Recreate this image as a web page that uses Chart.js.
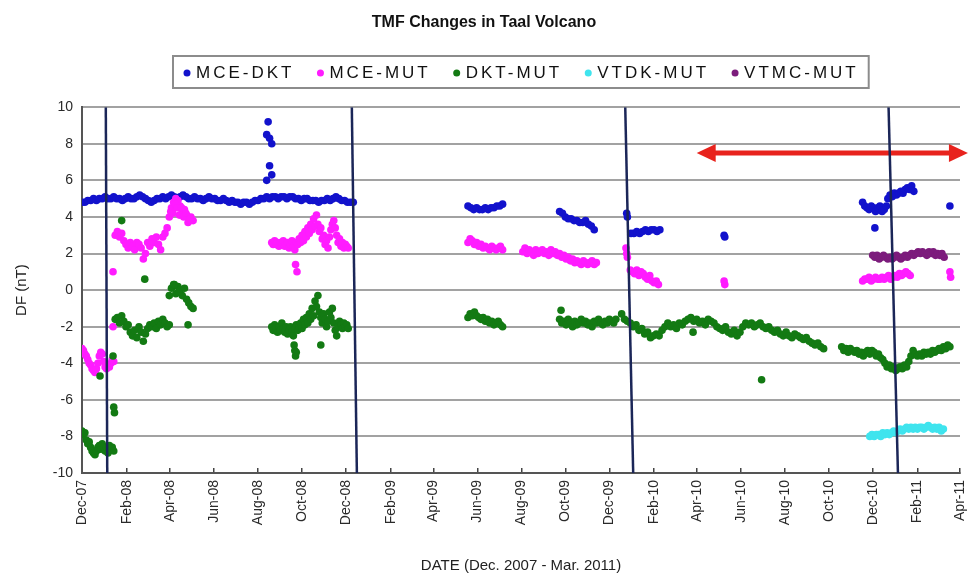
<!DOCTYPE html>
<html>
<head>
<meta charset="utf-8">
<title>TMF Changes in Taal Volcano</title>
<script src="https://cdn.jsdelivr.net/npm/chart.js@4.4.1/dist/chart.umd.min.js"></script>
<style>
  html, body { margin: 0; padding: 0; background: #ffffff; }
  #wrap { width: 968px; height: 578px; }
</style>
</head>
<body>
<div id="wrap"><canvas id="tmf" width="968" height="578"></canvas></div>
<script>
// Time axis: day numbers counted from 1 Dec 2007 (day 0) to 1 Apr 2011 (day 1217).
const xTickDays = [0, 62, 122, 183, 244, 305, 366, 428, 487, 548, 609, 670, 731, 793, 852, 913, 974, 1035, 1096, 1158, 1217];
const xTickLabels = ['Dec-07', 'Feb-08', 'Apr-08', 'Jun-08', 'Aug-08', 'Oct-08', 'Dec-08', 'Feb-09', 'Apr-09', 'Jun-09', 'Aug-09',
                     'Oct-09', 'Dec-09', 'Feb-10', 'Apr-10', 'Jun-10', 'Aug-10', 'Oct-10', 'Dec-10', 'Feb-11', 'Apr-11'];

const seriesNames = ['MCE-DKT', 'MCE-MUT', 'DKT-MUT', 'VTDK-MUT', 'VTMC-MUT'];
const seriesColors = ['#1212cc', '#ff1cff', '#137a13', '#3fe4ee', '#7c1c7c'];

// Readings are stored as runs: [first day, sampling interval (days), DF values in nT]
// plus isolated readings as [day, DF].
const mceDktRuns = [
  [0, 4, [4.8, 4.8, 4.9, 4.9, 5.0, 4.9, 5.0, 5.0, 5.1, 5.0, 5.0, 5.1, 5.0, 5.0, 4.9, 5.0, 5.1, 5.0, 5.0, 5.1,
          5.2, 5.1, 5.0, 4.9, 4.8, 4.9, 5.0, 5.0, 5.1, 5.0, 5.1, 5.2, 5.1, 5.0, 5.1, 5.2, 5.1, 5.0, 5.0, 5.1,
          5.0, 5.0, 4.9, 5.0, 5.1, 5.0, 5.0, 4.9, 4.9, 5.0, 4.9, 4.8, 4.9, 4.8, 4.8, 4.7, 4.8, 4.8, 4.7, 4.8,
          4.9, 4.9, 5.0, 5.0, 5.1, 5.0, 5.1, 5.1, 5.0, 5.1, 5.1, 5.0, 5.1, 5.1, 5.0, 5.0, 4.9, 5.0, 5.0, 4.9,
          4.9, 4.9, 4.8, 4.9, 4.9, 5.0, 4.9, 5.0, 5.1, 5.0, 4.9, 4.9, 4.8, 4.8, 4.8]],
  [535, 4, [4.6, 4.5, 4.4, 4.5, 4.4, 4.4, 4.5, 4.4, 4.5, 4.5, 4.6, 4.6, 4.7]],
  [662, 4, [4.3, 4.2, 4.0, 3.9, 3.9, 3.8, 3.8, 3.7, 3.7, 3.8, 3.6, 3.5, 3.3]],
  [761, 4, [3.1, 3.1, 3.2, 3.1, 3.2, 3.3, 3.2, 3.3, 3.3, 3.2, 3.3]],
  [1082, 3, [4.8, 4.6, 4.5, 4.4, 4.6, 4.5, 4.3, 4.5, 4.6, 4.3, 4.4, 4.6]],
  [1117, 3, [5.0, 5.2, 5.1, 5.3, 5.2, 5.3, 5.4, 5.3, 5.5, 5.6, 5.5, 5.7, 5.4]]
];
const mceDktPoints = [[256, 6.0], [263, 6.3], [260, 6.8], [263, 8.0], [256, 8.5], [260, 8.3], [258, 9.2],
                      [755, 4.2], [756, 4.0], [890, 3.0], [891, 2.9], [1099, 3.4], [1203, 4.6]];

const mceMutRuns = [
  [0, 2, [-3.2, -3.3, -3.5, -3.6, -3.8, -4.0, -4.1, -4.3, -4.4, -4.5, -4.3, -4.0, -3.6, -3.4, -3.5, -3.9, -4.2, -4.3, -4.1, -4.2, -4.0, -3.8, -3.9]],
  [46, 3, [3.0, 3.2, 2.9, 3.1, 2.7, 2.5, 2.3, 2.6, 2.4, 2.2, 2.6, 2.5, 2.3, 1.7, 2.0, 2.6, 2.4, 2.8, 2.6, 2.9, 2.5, 2.2, 2.9, 3.1, 3.4]],
  [121, 3, [4.0, 4.5, 4.8, 5.0, 4.9, 4.6, 4.3, 4.4, 4.1, 3.9, 4.0, 3.8]],
  [123, 3, [4.3, 4.2, 4.7, 4.5, 4.1, 4.5, 4.0, 4.2, 3.7, 3.9]],
  [263, 2, [2.6, 2.5, 2.7, 2.5, 2.6, 2.4, 2.6, 2.5, 2.7, 2.4, 2.5, 2.6, 2.3, 2.5, 2.7, 2.4, 2.2, 2.6, 2.5, 2.8,
            2.6, 3.0, 2.7, 3.2, 2.9, 3.4, 3.1, 3.6, 3.3, 3.9, 3.5, 4.1, 3.6, 3.2, 3.4, 2.8, 3.0, 2.5, 2.7, 2.3,
            2.9, 3.3, 3.6, 3.8, 3.4, 3.0, 2.6, 2.8, 2.4, 2.6, 2.3, 2.5, 2.4, 2.3]],
  [535, 3, [2.6, 2.8, 2.7, 2.5, 2.6, 2.4, 2.5, 2.3, 2.4, 2.3, 2.2, 2.4, 2.3, 2.2, 2.3, 2.4, 2.2]],
  [611, 3, [2.1, 2.3, 2.0, 2.2, 2.1, 1.9, 2.2, 2.0, 2.1, 2.2, 2.0, 2.1, 1.9, 2.2, 2.0, 2.1, 1.9, 2.0, 1.8, 1.9,
            1.7, 1.8, 1.6, 1.7, 1.5, 1.6, 1.5, 1.4, 1.6, 1.5, 1.4, 1.5, 1.6, 1.4, 1.5]],
  [760, 3, [1.1, 1.0, 0.9, 1.1, 0.8, 1.0, 0.9, 0.7, 0.6, 0.8, 0.5, 0.4, 0.5, 0.3]],
  [1082, 3, [0.5, 0.6, 0.6, 0.7, 0.5, 0.6, 0.7, 0.6, 0.6, 0.7, 0.6, 0.7, 0.8, 0.6, 0.7, 0.8, 0.7, 0.9, 0.8, 0.9, 1.0, 0.9, 0.8]]
];
const mceMutPoints = [[43, -2.0], [43, 1.0], [296, 1.4], [298, 1.0], [754, 2.3], [755, 2.0], [756, 1.8],
                      [890, 0.5], [891, 0.3], [1203, 1.0], [1204, 0.7]];

const dktMutRuns = [
  [0, 2, [-7.7, -7.9, -7.8, -8.2, -8.4, -8.3, -8.6, -8.8, -8.9, -9.0, -8.8, -8.6, -8.5, -8.7, -8.4, -8.6, -8.8, -8.6, -8.9, -8.5, -8.7, -8.6, -8.8]],
  [46, 3, [-1.6, -1.5, -1.8, -1.4, -1.7, -2.0, -1.9, -2.3, -2.5, -2.2, -2.6, -2.0, -2.3, -2.8, -2.4, -2.1, -1.9, -2.0, -1.8, -2.1,
           -1.7, -1.9, -1.6, -1.8, -2.0, -1.9]],
  [121, 3, [-0.3, 0.1, 0.3, -0.2, 0.2, 0.0, -0.3, 0.1, -0.5, -0.7, -0.9, -1.0]],
  [263, 2, [-2.0, -2.2, -1.9, -2.1, -2.3, -2.0, -2.2, -1.8, -2.1, -2.3, -2.0, -2.4, -2.2, -2.0, -2.3, -2.5, -2.1, -1.9, -2.2, -2.0,
            -1.8, -2.1, -1.6, -1.9, -1.5, -1.8, -1.3, -1.6, -1.0, -1.4, -0.6, -0.9, -0.3, -1.2, -1.5, -1.8, -1.3, -1.6, -2.0, -1.7,
            -1.2, -1.5, -1.0, -1.8, -2.2, -2.5, -2.0, -1.7, -1.9, -2.1, -1.8, -2.0, -1.9, -2.1]],
  [535, 3, [-1.5, -1.3, -1.4, -1.2, -1.4, -1.5, -1.6, -1.5, -1.7, -1.6, -1.8, -1.7, -1.9, -1.8, -1.7, -1.9, -2.0]],
  [662, 3, [-1.6, -1.8, -1.7, -1.9, -1.6, -1.8, -2.0, -1.7, -1.9, -1.8, -1.6, -1.8, -1.7, -1.9, -1.8, -2.0, -1.7, -1.8, -1.6, -1.8,
            -1.9, -1.7, -1.8, -1.6, -1.7, -1.8, -1.6]],
  [748, 4, [-1.3, -1.6, -1.7, -1.8, -2.0, -1.9, -2.2, -2.1, -2.4, -2.3, -2.6, -2.5, -2.4, -2.5, -2.2, -2.0, -1.8, -2.0, -1.9, -2.1,
            -1.8, -1.9, -1.7, -1.6, -1.5, -1.7, -1.6, -1.8, -1.7, -1.9, -1.6, -1.7, -1.8, -2.0, -2.1, -2.2, -2.0, -2.3, -2.4, -2.2,
            -2.5, -2.3, -2.0, -1.8, -1.9, -1.8, -2.0, -1.9, -1.8, -2.0, -2.1, -2.0, -2.2, -2.3, -2.2, -2.4, -2.5, -2.3, -2.5, -2.6,
            -2.4, -2.5, -2.6, -2.7, -2.6, -2.8, -2.9, -3.0, -2.9, -3.1, -3.2]],
  [1053, 3, [-3.1, -3.3, -3.2, -3.4, -3.2, -3.3, -3.4, -3.3, -3.5, -3.4, -3.6, -3.4, -3.3, -3.5, -3.3, -3.4, -3.6, -3.5, -3.7, -3.8,
             -4.0, -4.2, -4.1, -4.3, -4.2, -4.4, -4.3, -4.2, -4.3, -4.1, -4.2, -3.9, -3.6, -3.3, -3.5, -3.6, -3.5, -3.6, -3.4, -3.5,
             -3.4, -3.5, -3.3, -3.4, -3.3, -3.2, -3.3, -3.1, -3.2, -3.0, -3.1]]
];
const dktMutPoints = [[25, -4.7], [43, -3.6], [44, -6.4], [45, -6.7], [55, 3.8], [87, 0.6], [128, 0.3], [134, -0.1], [147, -1.9],
                      [294, -3.0], [295, -3.3], [296, -3.6], [297, -3.4], [331, -3.0], [664, -1.1], [847, -2.3], [942, -4.9]];

const vtdkMutRuns = [
  [1092, 3, [-8.0, -7.9, -8.0, -7.9, -7.9, -8.0, -7.8, -7.9, -7.8, -7.9, -7.8, -7.7, -7.8, -7.7, -7.6, -7.7, -7.6, -7.5, -7.6, -7.5,
             -7.6, -7.5, -7.6, -7.5, -7.5, -7.6, -7.5, -7.4, -7.5, -7.6, -7.5, -7.6, -7.5, -7.7, -7.6]]
];
const vtdkMutPoints = [];

const vtmcMutRuns = [
  [1096, 3, [1.9, 1.8, 1.9, 1.7, 1.8, 1.9, 1.8, 1.7, 1.8, 1.7, 1.8, 1.9, 1.8, 1.7, 1.8, 1.9, 1.8, 1.9, 2.0, 1.9,
             2.0, 2.1, 2.0, 2.1, 2.0, 1.9, 2.1, 2.0, 2.1, 1.9, 2.0, 1.9, 2.0, 1.8]]
];
const vtmcMutPoints = [];

// Event marker lines: [day at DF = 10, day at DF = -10]
const markerLines = [[33, 35], [374, 381], [753, 764], [1118, 1131]];
// Double-headed period arrow: [from day, to day] at DF level
const arrowSpan = [852, 1228];
const arrowLevel = 7.5;

function expand(runs, points) {
  const out = [];
  runs.forEach(([start, step, vals]) => vals.forEach((v, i) => out.push({ x: start + i * step, y: v })));
  points.forEach(([d, v]) => out.push({ x: d, y: v }));
  return out;
}

const seriesData = [
  expand(mceDktRuns, mceDktPoints),
  expand(mceMutRuns, mceMutPoints),
  expand(dktMutRuns, dktMutPoints),
  expand(vtdkMutRuns, vtdkMutPoints),
  expand(vtmcMutRuns, vtmcMutPoints)
];

const FONT = '"Liberation Sans", Arial, sans-serif';
Chart.defaults.font.family = FONT;

const datasets = seriesNames.map((name, i) => ({
  label: name,
  data: seriesData[i],
  backgroundColor: seriesColors[i],
  borderColor: seriesColors[i],
  borderWidth: 0,
  pointRadius: 3.8,
  pointHoverRadius: 3.8,
  order: 10 - i
}));
markerLines.forEach(([top, bottom]) => datasets.push({
  type: 'line',
  label: '',
  data: [{ x: top, y: 10 }, { x: bottom, y: -10 }],
  borderColor: '#1b2658',
  borderWidth: 2.5,
  pointRadius: 0,
  showLine: true,
  fill: false,
  order: 0
}));

// Boxed legend row under the title
const boxedLegend = {
  id: 'boxedLegend',
  afterDraw(chart) {
    const { ctx, chartArea } = chart;
    ctx.save();
    ctx.font = '17px ' + FONT;
    ctx.letterSpacing = '3px';
    const dotGap = 9, itemGap = 26, padL = 14, padR = 10;
    const widths = seriesNames.map(n => ctx.measureText(n).width);
    const total = padL + widths.reduce((a, w) => a + dotGap + w, 0) + itemGap * (seriesNames.length - 1) + padR;
    const cx = (chartArea.left + chartArea.right) / 2;
    const left = Math.round(cx - total / 2), top = 56, h = 32;
    ctx.strokeStyle = '#8c8c8c';
    ctx.lineWidth = 2;
    ctx.strokeRect(left, top, total, h);
    let x = left + padL;
    const y = top + h / 2 + 1;
    seriesNames.forEach((n, i) => {
      ctx.fillStyle = seriesColors[i];
      ctx.beginPath();
      ctx.arc(x, y, 3.5, 0, Math.PI * 2);
      ctx.fill();
      ctx.fillStyle = '#111111';
      ctx.textAlign = 'left';
      ctx.textBaseline = 'middle';
      ctx.fillText(n, x + dotGap, y);
      x += dotGap + widths[i] + itemGap;
    });
    ctx.restore();
  }
};

// Red double arrow marking the period of interest
const rangeArrow = {
  id: 'rangeArrow',
  beforeDatasetsDraw(chart) {
    const { ctx, scales: { x, y } } = chart;
    const x0 = x.getPixelForValue(arrowSpan[0]);
    const x1 = x.getPixelForValue(arrowSpan[1]);
    const yy = y.getPixelForValue(arrowLevel);
    const head = 19, half = 9;
    ctx.save();
    ctx.fillStyle = '#e8231d';
    ctx.strokeStyle = '#e8231d';
    ctx.lineWidth = 5;
    ctx.beginPath();
    ctx.moveTo(x0 + head - 2, yy);
    ctx.lineTo(x1 - head + 2, yy);
    ctx.stroke();
    ctx.beginPath();
    ctx.moveTo(x0, yy); ctx.lineTo(x0 + head, yy - half); ctx.lineTo(x0 + head, yy + half); ctx.closePath();
    ctx.fill();
    ctx.beginPath();
    ctx.moveTo(x1, yy); ctx.lineTo(x1 - head, yy - half); ctx.lineTo(x1 - head, yy + half); ctx.closePath();
    ctx.fill();
    ctx.restore();
  }
};

new Chart(document.getElementById('tmf'), {
  type: 'scatter',
  data: { datasets },
  plugins: [rangeArrow, boxedLegend],
  options: {
    responsive: false,
    animation: false,
    devicePixelRatio: 1,
    events: [],
    layout: { padding: { left: 0, right: 0, top: 0, bottom: 0 } },
    plugins: {
      legend: { display: false },
      tooltip: { enabled: false },
      title: {
        display: true,
        text: 'TMF Changes in Taal Volcano',
        color: '#111111',
        font: { family: FONT, size: 16, weight: 'bold' },
        padding: { top: 13, bottom: 75 }
      }
    },
    scales: {
      x: {
        type: 'linear',
        min: xTickDays[0],
        max: xTickDays[xTickDays.length - 1],
        afterBuildTicks: s => { s.ticks = xTickDays.map(v => ({ value: v })); },
        afterFit: s => { s.height = 105; s.paddingRight = 8; },
        ticks: {
          autoSkip: false,
          minRotation: 90,
          maxRotation: 90,
          padding: 12,
          color: '#2a2a2a',
          font: { size: 14 },
          callback: v => xTickLabels[xTickDays.indexOf(v)]
        },
        // tick marks point up into the plot
        grid: { drawOnChartArea: false, drawTicks: true, tickLength: -5, color: '#444444', lineWidth: 1.5 },
        border: { color: '#555555', width: 2 },
        title: {
          display: true,
          text: 'DATE (Dec. 2007 - Mar. 2011)',
          color: '#222222',
          font: { size: 15 },
          padding: { top: 0, bottom: 3 }
        }
      },
      y: {
        min: -10,
        max: 10,
        afterFit: s => { s.width = 82; },
        ticks: { stepSize: 2, padding: 9, color: '#2a2a2a', font: { size: 14 } },
        grid: { color: '#a2a2a2', lineWidth: 2, drawTicks: false },
        border: { color: '#555555', width: 2 },
        title: {
          display: true,
          text: 'DF (nT)',
          color: '#222222',
          font: { size: 15 },
          padding: { top: 13, bottom: 0 }
        }
      }
    }
  }
});
</script>
</body>
</html>
